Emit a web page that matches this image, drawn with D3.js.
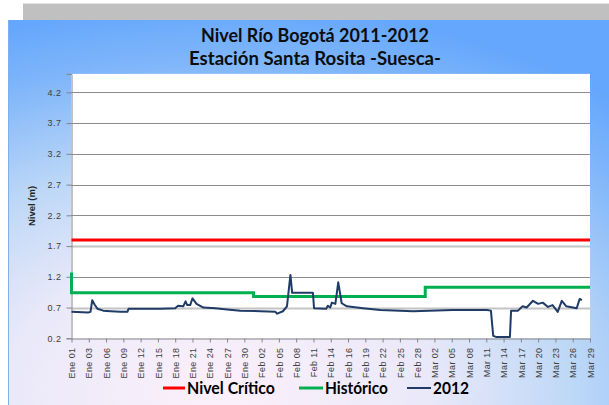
<!DOCTYPE html>
<html>
<head>
<meta charset="utf-8">
<script src="https://cdn.jsdelivr.net/npm/d3@7"></script>
<style>
  body { margin: 0; background: #fff; }
  svg { display: block; }
</style>
</head>
<body>
<div id="chart"></div>
<script>
// category labels on the x axis (one every 3 positions)
var fechas = ['Ene 01','Ene 03','Ene 06','Ene 09','Ene 12','Ene 15','Ene 18','Ene 21','Ene 24','Ene 27','Ene 30',
  'Feb 02','Feb 05','Feb 08','Feb 11','Feb 14','Feb 16','Feb 19','Feb 22','Feb 25','Feb 28',
  'Mar 02','Mar 05','Mar 08','Mar 11','Mar 14','Mar 17','Mar 20','Mar 23','Mar 26','Mar 29'];
var yTicks = [0.2, 0.7, 1.2, 1.7, 2.2, 2.7, 3.2, 3.7, 4.2];

// series 2012 (position on category axis, level in m)
var idx2012 = [0, 2.9, 3.3, 3.6, 4.0, 4.5, 5.5, 6.8, 8.5, 9.7, 9.9, 12, 15.4, 18, 18.5, 19.4, 19.8, 20.1, 20.6, 21,
  21.7, 22.9, 25, 27, 29.3, 32.8, 35.4, 35.7, 36.7, 37.4, 38, 38.3, 41.9, 42.1, 44.2, 44.5, 44.9, 45.2, 45.8, 46.3,
  46.9, 47.8, 50.6, 53.6, 59.3, 66.2, 72.1, 72.8, 73.2, 73.8, 76.1, 76.3, 77.5, 78.3, 79, 80.1, 81, 81.8, 82.7,
  83.5, 84.4, 85.1, 85.9, 87.7, 88.2, 88.6];
var nivel2012 = [0.63, 0.62, 0.63, 0.82, 0.75, 0.68, 0.65, 0.64, 0.63, 0.63, 0.68, 0.68, 0.68, 0.69, 0.73, 0.72, 0.80, 0.74, 0.74, 0.85,
  0.76, 0.70, 0.69, 0.67, 0.65, 0.64, 0.63, 0.60, 0.64, 0.72, 1.23, 0.94, 0.94, 0.69, 0.68, 0.73, 0.70, 0.78, 0.76, 1.11,
  0.77, 0.72, 0.69, 0.66, 0.64, 0.66, 0.66, 0.65, 0.24, 0.22, 0.22, 0.65, 0.65, 0.72, 0.70, 0.81, 0.76, 0.78, 0.71,
  0.74, 0.63, 0.81, 0.72, 0.69, 0.84, 0.82];

// historico (step line)
var idxHist = [0, 0, 31.6, 31.6, 61.4, 61.4, 90];
var nivelHist = [1.27, 0.94, 0.94, 0.88, 0.88, 1.03, 1.03];

// nivel critico
var idxCritico = [0, 90];
var nivelCritico = [1.8, 1.8];

var W = 609, H = 405;
var svg = d3.select('#chart').append('svg').attr('width', W).attr('height', H);

var defs = svg.append('defs');
var grad = defs.append('radialGradient').attr('id', 'bg')
  .attr('cx', '35%').attr('cy', '96%').attr('r', '100%');
[[0, '#fcf0fb'], [0.35, '#eae9f9'], [0.6, '#bcd7f7'], [0.85, '#80b6fa'], [1, '#65a7fc']].forEach(function(s) {
  grad.append('stop').attr('offset', s[0]).attr('stop-color', s[1]);
});

// gray strip at the top + blue panel
svg.append('rect').attr('x', 23).attr('y', 3).attr('width', W - 23).attr('height', 17).attr('fill', '#c0c0c0');
svg.append('line').attr('x1', 23).attr('x2', W).attr('y1', 3.5).attr('y2', 3.5).attr('stroke', '#e2e2e2');
svg.append('rect').attr('x', 8).attr('y', 20).attr('width', W - 8).attr('height', H - 20).attr('fill', 'url(#bg)');
svg.append('line').attr('x1', 8.5).attr('x2', 8.5).attr('y1', 20).attr('y2', H).attr('stroke', '#7fb0ee');

var x = d3.scaleLinear().domain([0, 90]).range([71.5, 590]);
var y = d3.scaleLinear().domain([0.2, 4.5]).range([338.3, 73.9]);

// plot area
svg.append('rect').attr('x', 71).attr('y', y(4.5)).attr('width', 590 - 71).attr('height', y(0.2) - y(4.5)).attr('fill', '#fff');

// gridlines
svg.append('g').selectAll('line').data(yTicks.slice(1)).enter().append('line')
  .attr('x1', 71).attr('x2', 590)
  .attr('y1', function(d) { return Math.round(y(d)) + 0.5; })
  .attr('y2', function(d) { return Math.round(y(d)) + 0.5; })
  .attr('stroke', function(d) { return (d === 0.7 || d === 1.7) ? '#c4c4c4' : '#8c8c8c'; })
  .attr('stroke-width', function(d) { return (d === 0.7 || d === 1.7) ? 2 : 1; });

// axes
var yAxis = svg.append('g').attr('transform', 'translate(71.5,0)')
  .call(d3.axisLeft(y).tickValues(yTicks).tickFormat(d3.format('.1f')).tickSize(5).tickPadding(5));
yAxis.select('.domain').attr('stroke', '#868686');
yAxis.selectAll('.tick line').attr('stroke', '#868686');
yAxis.selectAll('text').attr('fill', '#404040').style('font-family', 'Liberation Sans, Arial, sans-serif')
  .style('font-size', '9px').style('letter-spacing', '0.5px');

var xAxis = svg.append('g').attr('transform', 'translate(0,' + (y(0.2) + 0.2) + ')')
  .call(d3.axisBottom(x).tickValues(d3.range(0, 91, 3)).tickFormat(function(d, i) { return fechas[i]; })
    .tickSize(4).tickSizeOuter(0));
xAxis.select('.domain').attr('stroke', '#868686');
xAxis.selectAll('.tick line').attr('stroke', '#868686');
xAxis.selectAll('text')
  .attr('fill', '#404040').style('font-family', 'Liberation Sans, Arial, sans-serif').style('font-size', '9px')
  .style('letter-spacing', '0.4px')
  .attr('text-anchor', 'end').attr('transform', 'rotate(-90)')
  .attr('x', -9).attr('y', 0).attr('dy', '0.35em');

// y title
svg.append('text').attr('transform', 'translate(35,206) rotate(-90)')
  .attr('text-anchor', 'middle').attr('fill', '#262626')
  .style('font-family', 'Liberation Sans, Arial, sans-serif').style('font-size', '9.5px').style('font-weight', 'bold')
  .text('Nivel (m)');

// lines
var line = d3.line().x(function(d) { return x(d[0]); }).y(function(d) { return y(d[1]); });
svg.append('path').datum(d3.zip(idxCritico, nivelCritico)).attr('d', line)
  .attr('fill', 'none').attr('stroke', '#ff0000').attr('stroke-width', 3);
svg.append('path').datum(d3.zip(idxHist, nivelHist)).attr('d', line)
  .attr('fill', 'none').attr('stroke', '#00b050').attr('stroke-width', 3);
svg.append('path').datum(d3.zip(idx2012, nivel2012)).attr('d', line)
  .attr('fill', 'none').attr('stroke', '#1f3b66').attr('stroke-width', 2).attr('stroke-linejoin', 'round');

// title
var titulo = [['Nivel Río Bogotá 2011-2012', 42, 228], ['Estación Santa Rosita -Suesca-', 65, 252]];
svg.selectAll('.titulo').data(titulo).enter().append('text').attr('class', 'titulo')
  .attr('x', 315).attr('y', function(d) { return d[1]; })
  .attr('text-anchor', 'middle').attr('fill', '#0d0d0d')
  .attr('textLength', function(d) { return d[2]; }).attr('lengthAdjust', 'spacingAndGlyphs')
  .style('font-family', 'Lato, sans-serif').style('font-size', '18px').style('font-weight', 'bold')
  .text(function(d) { return d[0]; });

// legend
var leyenda = [
  { nombre: 'Nivel Crítico', color: '#ff0000', x0: 163, x1: 185, w: 88 },
  { nombre: 'Histórico', color: '#00b050', x0: 299, x1: 323, w: 63 },
  { nombre: '2012', color: '#1f3b66', x0: 407, x1: 431, w: 36 }
];
var lg = svg.append('g').selectAll('g').data(leyenda).enter().append('g');
lg.append('line').attr('x1', function(d) { return d.x0; }).attr('x2', function(d) { return d.x1; })
  .attr('y1', 388).attr('y2', 388).attr('stroke', function(d) { return d.color; })
  .attr('stroke-width', function(d) { return d.nombre === '2012' ? 2 : 3; });
lg.append('text').attr('x', function(d) { return d.x1 + 2; }).attr('y', 394)
  .attr('textLength', function(d) { return d.w; }).attr('lengthAdjust', 'spacingAndGlyphs')
  .attr('fill', '#000').style('font-family', 'Lato, sans-serif').style('font-size', '17px').style('font-weight', 'bold')
  .text(function(d) { return d.nombre; });
</script>
</body>
</html>
